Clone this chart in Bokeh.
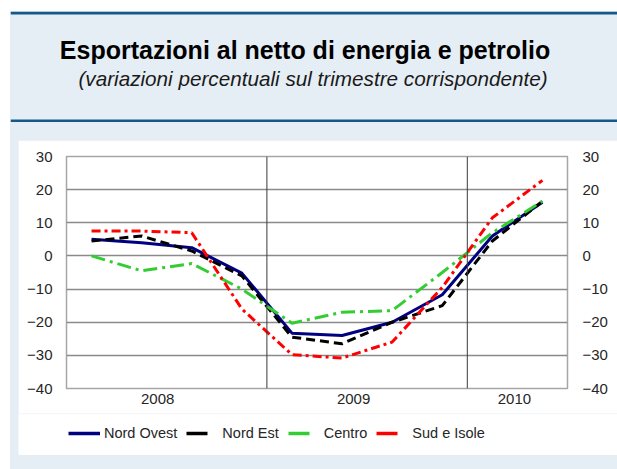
from bokeh.plotting import figure
from bokeh.models import Range1d, LinearAxis, FixedTicker, Span, Label, Legend, LegendItem, Spacer
from bokeh.layouts import column, row
from bokeh.embed import file_html
from bokeh.resources import INLINE

# ---- data ----
years = ["2008", "2009", "2010"]
quarters_per_year = [4, 4, 2]
nord_ovest = [5.0, 4.0, 2.5, -5.2, -23.3, -24.0, -20.0, -11.7, 6.0, 16.2]
nord_est = [4.5, 6.0, 1.5, -6.0, -24.5, -26.5, -20.0, -15.0, 4.5, 16.5]
centro = [0.0, -4.5, -2.3, -10.0, -20.3, -17.0, -16.5, -5.0, 7.0, 16.5]
sud_isole = [7.5, 7.5, 7.0, -16.0, -29.8, -30.8, -26.0, -9.5, 11.5, 22.8]
y_ticks = [-40, -30, -20, -10, 0, 10, 20, 30]
series_names = ["Nord Ovest", "Nord Est", "Centro", "Sud e Isole"]

title_text = "Esportazioni al netto di energia e petrolio"
subtitle_text = "(variazioni percentuali sul trimestre corrispondente)"

# ---- style ----
LB = "#e6eef5"
BLUE = "#14598a"
FONT = "Liberation Sans"
colors = ["#000080", "#000000", "#33cc33", "#ff0000"]
dashes = ["solid", "9 5", "14 5 3 5", "9 4 3 4"]
legend_dashes = ["solid", "21 11", "21 11", "21 11"]
year_label_shift = [-0.18, -0.27, -0.06]   # label placement as in the original

series = [nord_ovest, nord_est, centro, sud_isole]
n_q = sum(quarters_per_year)
quarter_x = [i + 0.5 for i in range(n_q)]
bounds = []
label_pos = []
start = 0
for n, s in zip(quarters_per_year, year_label_shift):
    label_pos.append(round(start + n / 2.0 + s, 2))
    start += n
    bounds.append(start)

# ---- header ----
header = figure(width=607, height=111, x_range=Range1d(0, 607), y_range=Range1d(111, 0),
                x_axis_type=None, y_axis_type=None, toolbar_location=None,
                output_backend="svg", min_border=0, outline_line_color=None,
                background_fill_color=LB, border_fill_color=LB, frame_align=False)
header.add_layout(Span(location=1.5, dimension="width", line_color=BLUE, line_width=3))
header.add_layout(Span(location=109.5, dimension="width", line_color=BLUE, line_width=3))
header.add_layout(Label(x=294.5, y=38, text=title_text, text_align="center",
                        text_baseline="middle", text_font=FONT, text_font_size="25px",
                        text_font_style="bold", text_color="#000000"))
header.add_layout(Label(x=302.5, y=67, text=subtitle_text, text_align="center",
                        text_baseline="middle", text_font=FONT, text_font_size="20.7px",
                        text_font_style="italic", text_color="#1a1a1a"))

# ---- chart ----
chart = figure(width=599, height=273, x_range=Range1d(0, n_q), y_range=Range1d(-40, 30),
               toolbar_location=None, output_backend="svg",
               min_border_left=48, min_border_right=50, min_border_top=16, min_border_bottom=25,
               border_fill_color="white", background_fill_color="white",
               outline_line_color="#a6a6a6", outline_line_width=1.5, frame_align=False)

chart.xgrid.visible = False
chart.ygrid.ticker = FixedTicker(ticks=y_ticks)
chart.ygrid.grid_line_color = "#8a8a8a"
chart.ygrid.grid_line_width = 1.5

for b in bounds[:-1]:
    chart.add_layout(Span(location=b, dimension="height", line_color="#3a3a3a", line_width=1))

def style_axis(ax, standoff):
    ax.major_tick_line_color = None
    ax.minor_tick_line_color = None
    ax.axis_line_color = None
    ax.major_label_text_font = FONT
    ax.major_label_text_font_size = "15px"
    ax.major_label_text_color = "#262626"
    ax.major_label_standoff = standoff

chart.yaxis.ticker = FixedTicker(ticks=y_ticks)
style_axis(chart.yaxis[0], 8)
right_axis = LinearAxis(ticker=FixedTicker(ticks=y_ticks))
style_axis(right_axis, 9)
chart.add_layout(right_axis, "right")

chart.xaxis.ticker = FixedTicker(ticks=label_pos)
chart.xaxis.major_label_overrides = {p: y for p, y in zip(label_pos, years)}
style_axis(chart.xaxis[0], -1)

for ys, c, d in zip(series, colors, dashes):
    chart.line(quarter_x, ys, line_color=c, line_width=3, line_dash=d)

# ---- legend strip (series drawn outside its visible range; only the legend shows) ----
leg_fig = figure(width=599, height=42, x_range=Range1d(-2, -1), y_range=Range1d(-40, 30),
                 x_axis_type=None, y_axis_type=None, toolbar_location=None,
                 output_backend="svg", min_border=0, outline_line_color=None,
                 background_fill_color="white", border_fill_color="white", frame_align=False)
leg_fig.xgrid.visible = False
leg_fig.ygrid.visible = False
leg_renderers = []
for ys, c, d in zip(series, colors, legend_dashes):
    leg_renderers.append(leg_fig.line(quarter_x, ys, line_color=c, line_width=3.5, line_dash=d))

legend = Legend(items=[LegendItem(label=n, renderers=[r]) for n, r in zip(series_names, leg_renderers)],
                orientation="horizontal", location=(50, 12), glyph_width=32, glyph_height=20,
                label_standoff=4, spacing=9, padding=0, margin=0,
                border_line_color=None, background_fill_alpha=0,
                label_text_font=FONT, label_text_font_size="14.5px", label_text_color="#262626")
leg_fig.add_layout(legend, "center")

inner = column(header, Spacer(width=607, height=18),
               row(Spacer(width=8, height=315), column(chart, leg_fig, spacing=0), spacing=0),
               Spacer(width=607, height=14),
               spacing=0, styles={"background-color": LB})
layout = row(Spacer(width=10, height=469), column(Spacer(width=607, height=11), inner, spacing=0), spacing=0)

open("out.html", "w").write(file_html(layout, INLINE))
